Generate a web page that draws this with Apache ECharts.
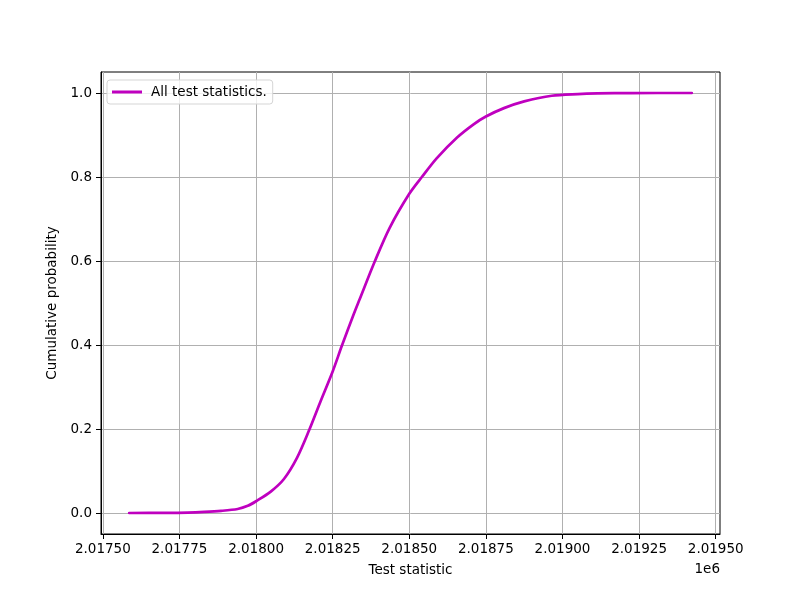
<!DOCTYPE html>
<html>
<head>
<meta charset="utf-8">
<script src="https://cdn.jsdelivr.net/npm/echarts@6/dist/echarts.min.js"></script>
<style>html,body{margin:0;padding:0;background:#fff}#c{width:800px;height:600px}</style>
</head>
<body>
<div id="c"></div>
<script>
// Test statistic values (x) and cumulative probability (y)
var testStat = [2017586, 2017700, 2017777, 2017831, 2017886, 2017940, 2017973, 2018000, 2018048, 2018091,
                2018134, 2018172, 2018210, 2018250, 2018280, 2018318, 2018337, 2018388, 2018436, 2018500,
                2018541, 2018590, 2018656, 2018711, 2018750, 2018809, 2018875, 2018965, 2019050, 2019114,
                2019223, 2019422];
var cumProb = [0, 0.0003, 0.001, 0.0025, 0.005, 0.0095, 0.017, 0.028, 0.051, 0.081,
               0.132, 0.195, 0.265, 0.337, 0.398, 0.472, 0.507, 0.6, 0.679, 0.76,
               0.8, 0.845, 0.894, 0.926, 0.944, 0.964, 0.980, 0.9935, 0.9975, 0.999,
               0.9999, 1.0];
var xTicks = [2017500, 2017750, 2018000, 2018250, 2018500, 2018750, 2019000, 2019250, 2019500];
var yTicks = [0, 0.2, 0.4, 0.6, 0.8, 1.0];
var seriesName = 'All test statistics.';

var data = testStat.map(function (x, i) { return [x, cumProb[i]]; });
var font = 'DejaVu Sans';
var chart = echarts.init(document.getElementById('c'), null, {renderer: 'canvas'});
chart.setOption({
  animation: false,
  backgroundColor: '#fff',
  textStyle: {fontFamily: font},
  grid: {left: 101, top: 72, width: 619, height: 462, show: true, borderColor: '#000', borderWidth: 1, backgroundColor: 'transparent'},
  legend: {
    left: 107, top: 80,
    data: [{name: seriesName, icon: 'rect'}],
    itemWidth: 30, itemHeight: 3,
    padding: [5, 6, 5, 5],
    borderColor: '#d5d5d5', borderWidth: 1, borderRadius: 3,
    backgroundColor: 'rgba(255,255,255,0.8)',
    textStyle: {fontFamily: font, fontSize: 13.5, color: '#000', padding: [0, 0, 0, 4], lineHeight: 14}
  },
  xAxis: {
    type: 'value', min: 2017494, max: 2019514,
    name: 'Test statistic', nameLocation: 'middle', nameGap: 29,
    nameTextStyle: {fontFamily: font, fontSize: 13.5, color: '#000'},
    axisLine: {show: true, onZero: false, lineStyle: {color: '#000', width: 1}},
    axisTick: {show: true, length: 5, customValues: xTicks, lineStyle: {color: '#000'}},
    axisLabel: {show: true, margin: 8, customValues: xTicks, fontFamily: font, fontSize: 13.5, color: '#000',
      formatter: function (v) { return (v / 1e6).toFixed(5); }},
    splitLine: {show: true, lineStyle: {color: '#b0b0b0', width: 1}}
  },
  yAxis: {
    type: 'value', min: -0.05, max: 1.05,
    name: 'Cumulative probability', nameLocation: 'middle', nameGap: 40,
    nameTextStyle: {fontFamily: font, fontSize: 13.5, color: '#000'},
    axisLine: {show: true, onZero: false, lineStyle: {color: '#000', width: 1}},
    axisTick: {show: true, length: 5, customValues: yTicks, lineStyle: {color: '#000'}},
    axisLabel: {show: true, margin: 9, customValues: yTicks, fontFamily: font, fontSize: 13.5, color: '#000',
      formatter: function (v) { return v.toFixed(1); }},
    splitLine: {show: true, lineStyle: {color: '#b0b0b0', width: 1}}
  },
  graphic: [{
    type: 'text', right: 80, top: 562,
    style: {text: '1e6', fontFamily: font, fontSize: 13.5, fill: '#000', textAlign: 'right'}
  }],
  series: [{
    name: seriesName, type: 'line', data: data, smooth: 0.3,
    symbol: 'none', showSymbol: false,
    lineStyle: {color: '#bf00bf', width: 2.7, cap: 'round'},
    itemStyle: {color: '#bf00bf'}
  }]
});
</script>
</body>
</html>
